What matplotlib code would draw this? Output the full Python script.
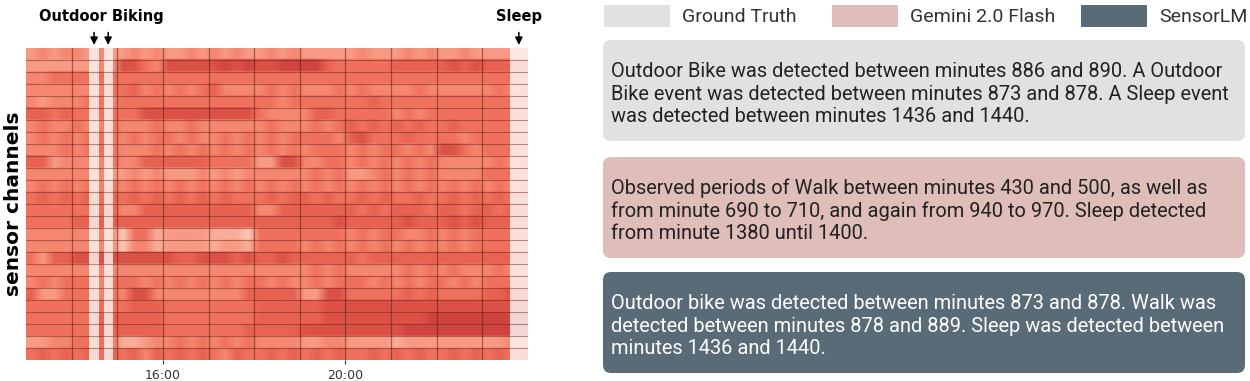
import numpy as np
import matplotlib.pyplot as plt
from matplotlib.colors import LinearSegmentedColormap
from matplotlib.patches import FancyBboxPatch, Rectangle

# sensor heatmap, 15-min bins from 13:00 to 24:00 (one group per hour)
# 0 = very light ... 9 = very dark
channels = [
    "3434 4343 3434 3343 4343 3434 3333 3433 3434 3343 3333",
    "3333 3343 7754 7777 7878 7788 8865 5555 6666 6767 6666",
    "4455 5555 5555 5555 5555 5555 5555 5555 5555 5555 5555",
    "4444 4445 5645 4545 6444 4545 4445 4544 4454 4444 4545",
    "4344 4554 5555 5555 5555 5545 5555 5565 5555 5555 5555",
    "6656 5555 5577 7777 7777 5444 4665 5555 4545 5555 5555",
    "4544 5445 4445 4454 4444 4544 4545 6565 6565 5655 5555",
    "4545 4555 4545 5454 4545 4545 5554 6755 5655 5545 5555",
    "4445 4555 4445 4545 4545 4545 4555 4545 5454 7754 5555",
    "6634 4445 4466 6666 5555 3377 4455 4545 4545 4444 4545",
    "4444 4443 3434 3334 3434 4444 4545 3345 4545 4444 5555",
    "4545 4545 4545 4545 4545 4545 4545 4545 4545 4545 4545",
    "5656 5656 5656 5656 5655 5656 6565 5656 5565 5656 5656",
    "5555 5556 4466 6666 6666 4466 6666 6565 6665 6656 6566",
    "5555 6666 6666 6666 6666 6666 6667 6666 6766 6767 6666",
    "4444 4444 1552 3333 2221 5555 5555 4545 5445 4545 5555",
    "4444 4444 1442 3333 2332 5555 4545 4545 4545 4545 5555",
    "5366 7777 7777 7667 7767 6676 6666 6566 6666 6666 6666",
    "4444 4444 4444 4444 4444 4444 4545 4444 4545 4544 4545",
    "4545 5545 5545 4545 4545 5454 4545 5545 4545 5454 5555",
    "6335 5545 4774 4444 4446 6666 3377 5555 5656 5555 6677",
    "5555 5555 5666 5555 5555 6666 6677 7777 7777 7777 7777",
    "5555 5566 6666 5555 5555 6666 6677 7777 7778 8888 8888",
    "5555 5566 6666 5555 5556 6666 7777 7777 7888 8888 8888",
    "3344 5555 2234 4545 4545 4444 3344 3333 2333 3333 3344",
    "5656 5656 5646 5656 5465 5656 5656 5565 6565 5656 5656",
]
t_start, t_end = 780, 1440  # minutes of day
bike_events = [(863, 876), (882, 894)]
sleep_events = [(1416, 1440)]
tick_minutes = [960, 1200]
tick_labels = ["16:00", "20:00"]

legend_names = ["Ground Truth", "Gemini 2.0 Flash", "SensorLM"]
legend_colors = ["#e1e1e1", "#dfbdb8", "#596b76"]
box_texts = [
    "Outdoor Bike was detected between minutes 886 and 890. A Outdoor\n"
    "Bike event was detected between minutes 873 and 878. A Sleep event\n"
    "was detected between minutes 1436 and 1440.",
    "Observed periods of Walk between minutes 430 and 500, as well as\n"
    "from minute 690 to 710, and again from 940 to 970. Sleep detected\n"
    "from minute 1380 until 1400.",
    "Outdoor bike was detected between minutes 873 and 878. Walk was\n"
    "detected between minutes 878 and 889. Sleep was detected between\n"
    "minutes 1436 and 1440.",
]
text_colors = ["#222222", "#222222", "white"]

grid = np.array([[int(c) for c in row.replace(" ", "")] for row in channels], dtype=float)
img = np.repeat(grid, 8, axis=0)
n_rows = len(channels)

heat = LinearSegmentedColormap.from_list("heat", [
    "#fde4dc", "#fbc6b6", "#f9ad98", "#f89a84", "#f5866f",
    "#f0725e", "#e86252", "#dd5247", "#d04540", "#c03838"])

fig = plt.figure(figsize=(12.5, 3.81), dpi=100)

# right-hand panel in pixel coords
axr = fig.add_axes([0, 0, 1, 1], zorder=-1)
axr.set_xlim(0, 1250)
axr.set_ylim(381, 0)
axr.axis("off")

# heatmap
ax = fig.add_axes([0.0208, 0.0551, 0.4016, 0.8197])
ax.imshow(img, cmap=heat, vmin=0, vmax=9, aspect="auto", interpolation="bilinear",
          extent=(t_start, t_end, n_rows, 0))
for i in range(1, n_rows):
    ax.axhline(i, color="#5c2018", lw=0.8, alpha=0.45)
for m in range(t_start + 60, t_end, 60):
    ax.axvline(m, color="#5c2018", lw=0.9, alpha=0.55)
for a, b in bike_events:
    ax.axvspan(a, b, color="white", alpha=0.75, lw=0)
for a, b in sleep_events:
    ax.axvspan(a, b, color="white", alpha=0.78, lw=0)

ax.set_xlim(t_start, t_end)
ax.set_ylim(n_rows, 0)
ax.set_xticks(tick_minutes, tick_labels)
ax.set_yticks([])
ax.tick_params(axis="x", length=3, labelsize=9, colors="#333333")
for s in ax.spines.values():
    s.set_visible(False)
ax.set_ylabel("sensor channels", fontsize=14.5, fontweight="bold", labelpad=2)

arrow = dict(arrowstyle="-|>", color="black", lw=1.1, mutation_scale=11)
for a, b in bike_events + sleep_events:
    ax.annotate("", xy=((a + b) / 2, 0), xytext=((a + b) / 2, -1.5),
                arrowprops=arrow, annotation_clip=False)
bike_mid = np.mean([(a + b) / 2 for a, b in bike_events])
ax.text(bike_mid, -2.6, "Outdoor Biking", ha="center", va="center",
        fontsize=10.5, fontweight="bold", clip_on=False)
sleep_mid = np.mean([(a + b) / 2 for a, b in sleep_events])
ax.text(sleep_mid, -2.6, "Sleep", ha="center", va="center",
        fontsize=10.5, fontweight="bold", clip_on=False)

# legend
sw_x = [604, 832, 1081]
for x, name, c in zip(sw_x, legend_names, legend_colors):
    axr.add_patch(Rectangle((x, 5), 66, 22, color=c, lw=0))
    axr.text(x + 78, 16.5, name, fontsize=14, family="Roboto", color="#333333", va="center")

# text boxes
box_tops = [40, 157, 272]
for top, txt, c, tc in zip(box_tops, box_texts, legend_colors, text_colors):
    axr.add_patch(FancyBboxPatch((603, top), 642, 101,
                                 boxstyle="round,pad=0,rounding_size=8", color=c, lw=0))
    axr.text(611, top + 54, txt, fontsize=14.4, family="Roboto", color=tc,
             va="center", ha="left", linespacing=1.22)

fig.savefig("out.png", dpi=100)
